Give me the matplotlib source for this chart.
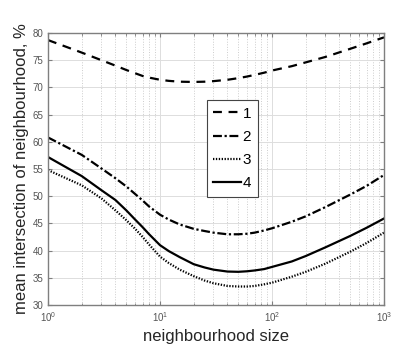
import matplotlib
matplotlib.use("Agg")
import matplotlib.pyplot as plt
from matplotlib.ticker import LogLocator, NullFormatter, MultipleLocator

plt.rcParams['font.family'] = ['Liberation Sans', 'DejaVu Sans']
plt.rcParams['mathtext.fontset'] = 'custom'
plt.rcParams['mathtext.rm'] = 'Liberation Sans'

# data
x = [1, 2, 3, 4, 5, 6, 7, 8, 10, 12, 15, 20, 25, 30, 40, 50, 60, 70, 85, 100,
     150, 200, 300, 500, 700, 1000]
c1 = [78.7, 76.4, 75.0, 74.0, 73.2, 72.6, 72.1, 71.8, 71.4, 71.2, 71.05, 71.0, 71.05,
      71.15, 71.4, 71.7, 72.0, 72.3, 72.7, 73.1, 73.9, 74.6, 75.6, 77.1, 78.1, 79.2]
c2 = [60.8, 57.6, 55.1, 53.3, 51.8, 50.4, 49.2, 48.1, 46.6, 45.7, 44.8, 44.0, 43.6,
      43.3, 43.0, 43.0, 43.1, 43.3, 43.7, 44.1, 45.3, 46.3, 48.0, 50.3, 51.9, 53.9]
c3 = [54.8, 52.0, 49.6, 47.4, 45.6, 44.0, 42.5, 41.1, 38.9, 37.7, 36.5, 35.3, 34.5,
      34.0, 33.5, 33.4, 33.4, 33.5, 33.8, 34.1, 35.2, 36.1, 37.6, 39.8, 41.4, 43.3]
c4 = [57.2, 53.7, 51.1, 49.3, 47.4, 45.7, 44.3, 43.0, 41.0, 39.9, 38.8, 37.5, 36.9,
      36.5, 36.15, 36.1, 36.2, 36.35, 36.6, 37.0, 38.0, 39.0, 40.6, 42.7, 44.2, 45.9]
labels = ['1', '2', '3', '4']

fig = plt.figure(figsize=(3.93, 3.45), dpi=100)
ax = fig.add_axes([48/393, 1-305/345, (384-48)/393, (305-33)/345])

lw = 1.6
ax.plot(x, c1, color='black', lw=lw, linestyle=(0, (4, 3)), label=labels[0])
ax.plot(x, c2, color='black', lw=lw, linestyle=(0, (4, 1.2, 1, 1.2)), label=labels[1])
ax.plot(x, c3, color='black', lw=lw, linestyle=(0, (0.6, 0.7)), label=labels[2])
ax.plot(x, c4, color='black', lw=lw, linestyle='-', label=labels[3])

ax.set_xscale('log')
ax.set_xlim(1, 1000)
ax.set_ylim(30, 80)
ax.yaxis.set_major_locator(MultipleLocator(5))
ax.xaxis.set_major_locator(LogLocator(base=10, numticks=10))
ax.xaxis.set_minor_locator(LogLocator(base=10, subs=range(2, 10), numticks=20))
ax.xaxis.set_minor_formatter(NullFormatter())

gray = '#7f7f7f'
for s in ax.spines.values():
    s.set_color(gray)
    s.set_linewidth(1.0)
ax.tick_params(which='both', direction='in', top=True, right=True, colors=gray,
               labelcolor='#555555', labelsize=7)
ax.tick_params(which='major', length=3)
ax.tick_params(which='minor', length=1.8)

ax.grid(which='major', color='#dddddd', linestyle='-', linewidth=0.7)
ax.grid(which='minor', axis='x', color='#cccccc', linestyle=':', linewidth=0.7)
ax.set_axisbelow(True)

ax.set_xlabel('neighbourhood size', fontsize=12, color='#262626', labelpad=4)
ax.set_ylabel('mean intersection of neighbourhood, %', fontsize=12, color='#262626', labelpad=2)

leg = ax.legend(loc='upper left', bbox_to_anchor=(0.472, 0.754), borderaxespad=0,
                fontsize=11, frameon=True, fancybox=False, handlelength=1.8,
                handletextpad=0.1, borderpad=0.45, labelspacing=0.6)
leg.get_frame().set_edgecolor('#444444')
leg.get_frame().set_linewidth(0.8)
leg.get_frame().set_alpha(1)

fig.savefig('out.png', dpi=100)
